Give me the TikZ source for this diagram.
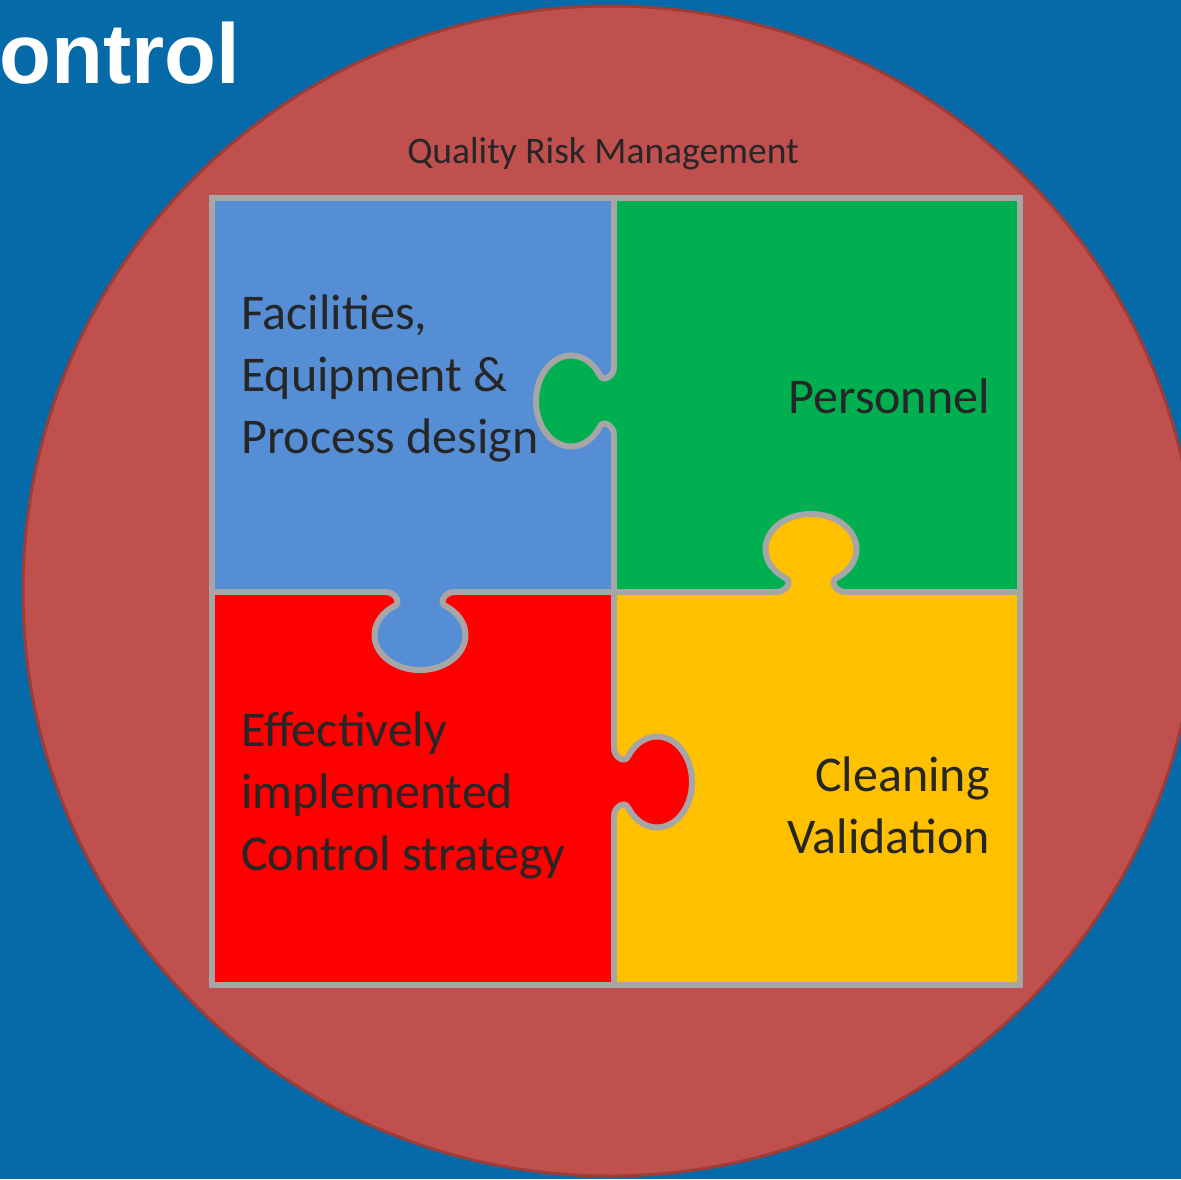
\documentclass[tikz,border=0pt]{standalone}
\usepackage{fontspec}
\setmainfont{Carlito}
\newfontfamily\headfont{Liberation Sans}

\definecolor{slidebg}{RGB}{5,106,167}
\definecolor{qrmred}{RGB}{192,80,77}
\definecolor{qrmrim}{RGB}{158,60,56}
\definecolor{pzblue}{RGB}{85,142,213}
\definecolor{pzgreen}{RGB}{0,176,80}
\definecolor{pzred}{RGB}{255,0,0}
\definecolor{pzyellow}{RGB}{255,192,0}
\definecolor{seamgray}{RGB}{166,166,166}
\definecolor{inkdark}{RGB}{38,38,38}

% one puzzle tab: base point x, y, direction, colour of the piece it belongs to
\newcommand{\puzzletab}[4]{%
  \begin{scope}[shift={(#1,#2)}, rotate=#3]
    \fill[#4] (-4,-34) -- (0,-34) .. controls (0,-25) and (11,-18) .. (14.3,-26)
      arc[start angle=-145.15, end angle=145.15, x radius=35, y radius=45.5]
      .. controls (11,18) and (0,25) .. (0,34) -- (-4,34) -- cycle;
    \draw[seam] (0,-34) .. controls (0,-25) and (11,-18) .. (14.3,-26)
      arc[start angle=-145.15, end angle=145.15, x radius=35, y radius=45.5]
      .. controls (11,18) and (0,25) .. (0,34);
  \end{scope}}

\begin{document}
\begin{tikzpicture}[
  x=1pt, y=-1pt,
  seam/.style={draw=seamgray, line width=6pt, line join=round},
  piece/.style={draw=seamgray, line width=6pt},
  lbl/.style={inner sep=0pt, text=inkdark, font=\fontsize{50}{62}\selectfont}
]
\useasboundingbox (0,0) rectangle (1181,1179);
\fill[slidebg] (0,0) rectangle (1181,1179);
\begin{scope}
  \clip (0,0) rectangle (1181,1179);
  \draw[qrmrim, line width=3pt, fill=qrmred] (610,591) ellipse [x radius=587, y radius=585];
\end{scope}

\node[anchor=base west, inner sep=0pt, text=white,
      font=\headfont\bfseries\fontsize{85}{90}\selectfont] (title) at (-1,83) {ontrol};
\node[anchor=base, inner sep=0pt, text=inkdark, font=\fontsize{37.5}{45}\selectfont]
      (qrm) at (603,163) {Quality Risk Management};

% the four pieces
\draw[piece, fill=pzblue]   (212,198) rectangle (614,592);
\draw[piece, fill=pzgreen]  (614,198) rectangle (1020,592);
\draw[piece, fill=pzred]    (212,592) rectangle (614,985);
\draw[piece, fill=pzyellow] (614,592) rectangle (1020,985);

\puzzletab{614}{401}{180}{pzgreen}
\puzzletab{811}{592}{90}{pzyellow}
\puzzletab{420}{592}{-90}{pzblue}
\puzzletab{614}{782}{0}{pzred}

% base anchor of a multi-line label sits on its last line
\node[lbl, anchor=base west, align=left] (design) at (241,453)
      {Facilities,\\Equipment \&\\Process design};
\node[lbl, anchor=base east] (personnel) at (990,413) {Personnel};
\node[lbl, anchor=base west, align=left] (strategy) at (241,870)
      {Effectively\\implemented\\Control strategy};
\node[lbl, anchor=base east, align=right] (cleaning) at (990,853)
      {Cleaning\\Validation};
\end{tikzpicture}
\end{document}
